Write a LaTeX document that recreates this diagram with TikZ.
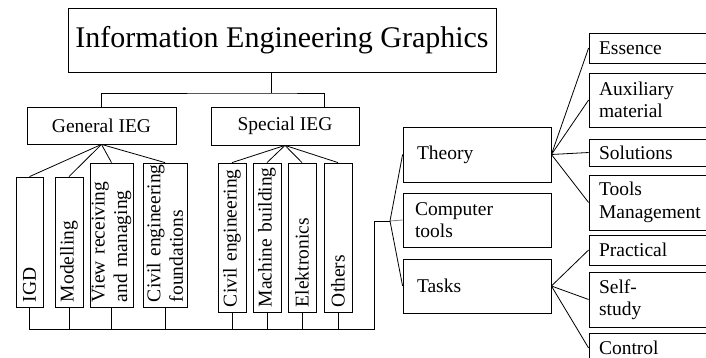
\documentclass[tikz,border=0pt]{standalone}
\usepackage{fontspec}
\setmainfont{Liberation Serif}
\hyphenpenalty=10000
\exhyphenpenalty=10000
\begin{document}
\begin{tikzpicture}[x=1pt,y=-1pt,
  box/.style={draw, line width=0.8pt, inner sep=0pt, font=\fontsize{19.5}{22.5}\selectfont},
  vtext/.style={box, rotate=90, align=left, inner xsep=5pt},
  htext/.style={box, align=left},
  conn/.style={line width=0.8pt}]
\clip (0,0) rectangle (706,358);
% top
\node[box, font=\fontsize{30}{36}\selectfont, minimum width=428pt, minimum height=64pt] (title) at (282,40) {Information Engineering Graphics};
\node[box, minimum width=149pt, minimum height=37pt] (gen) at (101.5,125.5) {General IEG};
\node[box, minimum width=148pt, minimum height=38pt] (spec) at (285,126) {Special IEG};
% general leaves
\node[vtext, minimum width=130pt, text width=120pt, minimum height=27pt] (igd) at (29.5,242) {IGD};
\node[vtext, minimum width=130pt, text width=120pt, minimum height=28pt] (mod) at (69,242) {Modelling};
\node[vtext, minimum width=144pt, text width=134pt, minimum height=43pt] (view) at (111.5,235) {View~receiving\\and~managing};
\node[vtext, minimum width=144pt, text width=134pt, minimum height=44pt] (civf) at (165,235) {Civil~engineering\\foundations};
% special leaves
\node[vtext, minimum width=149pt, text width=139pt, minimum height=28pt] (cive) at (232,237.5) {Civil~engineering};
\node[vtext, minimum width=149pt, text width=139pt, minimum height=28pt] (mach) at (267,237.5) {Machine~building};
\node[vtext, minimum width=149pt, text width=139pt, minimum height=28pt] (elek) at (302,237.5) {Elektronics};
\node[vtext, minimum width=149pt, text width=139pt, minimum height=28pt] (oth) at (338,237.5) {Others};
% middle column
\node[htext, minimum width=148pt, minimum height=55pt, inner xsep=14pt, text width=120pt] (theory) at (477,154.5) {Theory};
\node[htext, minimum width=148pt, minimum height=54pt, inner xsep=12pt, text width=124pt] (comp) at (477,220) {Computer\\tools};
\node[htext, minimum width=148pt, minimum height=54pt, inner xsep=14pt, text width=120pt] (tasks) at (477,286) {Tasks};
% right column
\node[htext, minimum width=141pt, minimum height=30pt, inner xsep=10pt, text width=121pt] (ess) at (659.5,48) {Essence};
\node[htext, minimum width=141pt, minimum height=54pt, inner xsep=10pt, text width=121pt] (aux) at (659.5,100) {Auxiliary\\material};
\node[htext, minimum width=141pt, minimum height=27pt, inner xsep=10pt, text width=121pt] (sol) at (659.5,152.5) {Solutions};
\node[htext, minimum width=141pt, minimum height=55pt, inner xsep=10pt, text width=121pt] (tool) at (659.5,202.5) {Tools\\Management};
\node[htext, minimum width=141pt, minimum height=30pt, inner xsep=10pt, text width=121pt] (prac) at (659.5,250) {Practical};
\node[htext, minimum width=141pt, minimum height=55pt, inner xsep=10pt, text width=121pt] (self) at (659.5,299.5) {Self-\\study};
\node[htext, minimum width=141pt, minimum height=30pt, inner xsep=10pt, text width=121pt] (ctrl) at (659.5,348) {Control};
% coordinates
\coordinate (j1) at (271,93);
\coordinate (sp) at (324,107);
\coordinate (bus) at (374,329);
\coordinate (fk) at (390,221);
% connectors top
\draw[conn] (title.south -| j1) -- (j1);
\draw[conn] (gen.north) |- (j1) -| (sp);
\foreach \n in {igd,mod,view,civf} \draw[conn] (gen.south) -- (\n.east);
\foreach \n in {cive,mach,elek,oth} \draw[conn] (spec.south) -- (\n.east);
% bus
\draw[conn] (igd.west) |- (bus) |- (fk);
\foreach \n in {mod,view,civf,cive,mach,elek,oth} \draw[conn] (\n.west) -- (\n.west |- bus);
% fork
\draw[conn] (fk) -- (theory.west);
\draw[conn, gray] (fk) -- (comp.west);
\draw[conn] (fk) -- (tasks.west);
\foreach \n in {ess,aux,sol,tool} \draw[conn] (theory.east) -- (\n.west);
\foreach \n in {prac,self,ctrl} \draw[conn] (tasks.east) -- (\n.west);
\end{tikzpicture}
\end{document}
